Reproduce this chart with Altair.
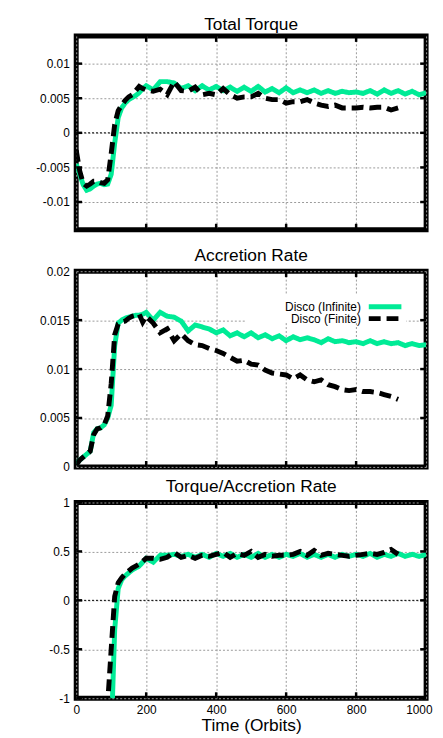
import altair as alt
import pandas as pd

# ---------------- data ----------------
TIME = [0, 10, 20, 30, 40, 50, 60, 70, 80, 90, 100, 110, 120, 130, 140, 150, 160, 170, 180, 190, 200,
        220, 240, 260, 280, 300, 320, 340, 360, 380, 400, 420, 440, 460, 480, 500, 520, 540, 560, 580, 600,
        620, 640, 660, 680, 700, 720, 740, 760, 780, 800, 820, 840, 860, 880, 900, 920, 940, 960, 980, 1000]

RUNS = ["Disco (Infinite)", "Disco (Finite)"]

INF_TORQUE = [-0.0045, -0.006, -0.0075, -0.0083, -0.0081, -0.0077, -0.0074, -0.0073, -0.0075, -0.0074,
              -0.006, -0.0015, 0.0022, 0.0036, 0.0043, 0.0048, 0.0051, 0.0054, 0.0058, 0.0064, 0.0068,
              0.0062, 0.0074, 0.0074, 0.0072, 0.0064, 0.0068, 0.0061, 0.0068, 0.0062, 0.0067,
              0.0061, 0.0066, 0.006, 0.0066, 0.006, 0.0067, 0.0059, 0.0064, 0.0058, 0.0065,
              0.0058, 0.0062, 0.0058, 0.0062, 0.0057, 0.0061, 0.0057, 0.006, 0.0058, 0.0059,
              0.0057, 0.0061, 0.0056, 0.0062, 0.0057, 0.0061, 0.0056, 0.006, 0.0055, 0.0058]
FIN_TORQUE = [-0.0025, -0.0055, -0.0073, -0.0077, -0.0074, -0.007, -0.007, -0.0072, -0.0073, -0.0068,
              -0.003, 0.0012, 0.0032, 0.004, 0.0047, 0.0052, 0.0055, 0.0061, 0.0067, 0.0064, 0.0062,
              0.006, 0.0063, 0.0055, 0.0074, 0.0061, 0.006, 0.0066, 0.0055, 0.0057, 0.0055,
              0.0064, 0.0055, 0.005, 0.0052, 0.0052, 0.0057, 0.005, 0.0048, 0.0048, 0.0043,
              0.0045, 0.0045, 0.0048, 0.0043, 0.004, 0.0038, 0.004, 0.0036, 0.0036, 0.0036,
              0.0037, 0.0036, 0.0037, 0.0037, 0.0033, 0.0036, None, None, None, None]

INF_ACC = [0.0003, 0.0007, 0.001, 0.0013, 0.0016, 0.0035, 0.0039, 0.004, 0.0043, 0.005,
           0.0063, 0.0124, 0.0147, 0.015, 0.0152, 0.0153, 0.0154, 0.0155, 0.0155, 0.0156, 0.0158,
           0.015, 0.0158, 0.0154, 0.0153, 0.0149, 0.0139, 0.0145, 0.0143, 0.0141, 0.0137,
           0.014, 0.0134, 0.0137, 0.0133, 0.0137, 0.0132, 0.0135, 0.0131, 0.0134, 0.0129,
           0.0133, 0.013, 0.0132, 0.013, 0.0127, 0.0131, 0.0128, 0.0129, 0.0127, 0.0128,
           0.0126, 0.0129, 0.0126, 0.0128, 0.0126, 0.0127, 0.0124, 0.0126, 0.0124, 0.0125]
FIN_ACC = [0.0002, 0.0007, 0.001, 0.0013, 0.0016, 0.0033, 0.0039, 0.004, 0.0043, 0.0052,
           0.0085, 0.0135, 0.0146, 0.0148, 0.0149, 0.0152, 0.0154, 0.0155, 0.0156, 0.0148, 0.0154,
           0.0147, 0.0137, 0.0141, 0.0129, 0.0136, 0.0129, 0.0125, 0.0124, 0.0121, 0.0119,
           0.0116, 0.0112, 0.0108, 0.0109, 0.0105, 0.0104, 0.0099, 0.0096, 0.0095, 0.0094,
           0.009, 0.0094, 0.0089, 0.0087, 0.0089, 0.0084, 0.0082, 0.0079, 0.0078, 0.0079,
           0.0077, 0.0077, 0.0076, 0.0074, 0.0072, 0.0069, None, None, None, None]

INF_RATIO = [None, None, None, None, None, None, None, None, None, -2.6,
             -1.4, -0.3, 0.12, 0.21, 0.25, 0.28, 0.31, 0.33, 0.35, 0.39, 0.43,
             0.39, 0.46, 0.46, 0.47, 0.45, 0.47, 0.44, 0.47, 0.44, 0.48,
             0.45, 0.48, 0.44, 0.47, 0.44, 0.48, 0.44, 0.47, 0.44, 0.47,
             0.45, 0.48, 0.44, 0.47, 0.44, 0.47, 0.44, 0.47, 0.45, 0.47,
             0.45, 0.48, 0.44, 0.47, 0.45, 0.48, 0.45, 0.47, 0.45, 0.47]
FIN_RATIO = [None, None, None, None, None, None, None, None, -2.2, -1.05,
             -0.5, 0.04, 0.18, 0.23, 0.27, 0.3, 0.33, 0.35, 0.37, 0.4, 0.43,
             0.43, 0.42, 0.44, 0.49, 0.44, 0.46, 0.43, 0.46, 0.45, 0.47,
             0.49, 0.44, 0.48, 0.46, 0.5, 0.44, 0.47, 0.45, 0.46, 0.46,
             0.47, 0.5, 0.46, 0.51, 0.46, 0.48, 0.47, 0.46, 0.45, 0.46,
             0.47, 0.48, 0.47, 0.49, 0.52, 0.47, None, None, None, None]

X_TICKS = [0, 200, 400, 600, 800, 1000]
Y_TICKS_TORQUE = [-0.01, -0.005, 0, 0.005, 0.01]
Y_TICKS_ACC = [0, 0.005, 0.01, 0.015, 0.02]
Y_TICKS_RATIO = [-1, -0.5, 0, 0.5, 1]

# ---------------- style ----------------
FONT = "Liberation Sans"
GREEN = "#00eb96"
COLORS = [GREEN, "black"]
DASHES = [[1, 0], [12, 6]]
W = 354
RES = dict(x="independent", y="independent", color="independent", strokeDash="independent")


def long_df(inf, fin):
    rows = []
    for run, vals in zip(RUNS, [inf, fin]):
        for t, v in zip(TIME, vals):
            if v is not None:
                rows.append({"t": t, "v": v, "run": run})
    return pd.DataFrame(rows)


def panel(inf, fin, title, ydomain, yticks, height, bottom=False, legend=False, zero=True):
    df = long_df(inf, fin)
    xaxis = alt.Axis(
        values=X_TICKS, grid=True, gridColor="#9a9a9a", gridDash=[2, 2], gridWidth=1,
        ticks=False, domain=False, labels=bottom, labelExpr="toString(datum.value)",
        labelAlign={"condition": {"test": "datum.value == 1000", "value": "right"}, "value": "center"},
        labelOffset={"condition": {"test": "datum.value == 1000", "value": 6}, "value": 0},
        labelFontSize=12, labelFont=FONT, labelColor="black", labelPadding=6,
        title="Time (Orbits)" if bottom else None, titleFontSize=17.5, titleFont=FONT,
        titleFontWeight="normal", titleColor="black", titlePadding=2,
    )
    yaxis = alt.Axis(
        values=yticks, grid=True, gridColor="#9a9a9a", gridDash=[2, 2], gridWidth=1,
        ticks=False, domain=False, labelExpr="toString(datum.value)",
        labelFontSize=12, labelFont=FONT, labelColor="black", labelPadding=7,
        title=None, minExtent=42, maxExtent=42,
    )
    xs = alt.Scale(domain=[0, 1000], nice=False, zero=False)
    ys = alt.Scale(domain=ydomain, nice=False, zero=False)
    X = alt.X("t:Q", scale=xs, axis=xaxis)
    Y = alt.Y("v:Q", scale=ys, axis=yaxis)
    C = alt.Color("run:N", scale=alt.Scale(domain=RUNS, range=COLORS), legend=None)
    D = alt.StrokeDash("run:N", scale=alt.Scale(domain=RUNS, range=DASHES), legend=None)

    layers = []
    if legend:
        # opaque key box (hides the grid behind the key, as in gnuplot)
        layers.append(alt.Chart(pd.DataFrame({"k": [0]})).mark_rect(color="white")
                      .encode(x=alt.value(171), x2=alt.value(334), y=alt.value(24), y2=alt.value(52)))
    if zero:
        layers.append(
            alt.Chart(pd.DataFrame({"v": [0]})).mark_rule(color="black", strokeDash=[2, 2], strokeWidth=1)
            .encode(y=Y)
        )
    for run in RUNS:
        layers.append(
            alt.Chart(df[df["run"] == run]).mark_line(clip=True, strokeWidth=5, strokeCap="butt")
            .encode(x=X, y=Y, color=C, strokeDash=D)
        )
    xt = pd.DataFrame({"t": X_TICKS[1:-1]})
    yt = pd.DataFrame({"v": yticks[1:-1] if not zero else yticks})
    layers.append(alt.Chart(xt).mark_rule(color="black", strokeWidth=2.5)
                  .encode(x=X, y=alt.value(height), y2=alt.value(height - 6)))
    layers.append(alt.Chart(xt).mark_rule(color="black", strokeWidth=2.5)
                  .encode(x=X, y=alt.value(0), y2=alt.value(6)))
    layers.append(alt.Chart(yt).mark_rule(color="black", strokeWidth=2.5)
                  .encode(y=Y, x=alt.value(0), x2=alt.value(6)))
    layers.append(alt.Chart(yt).mark_rule(color="black", strokeWidth=2.5)
                  .encode(y=Y, x=alt.value(W - 6), x2=alt.value(W)))

    if legend:
        # gnuplot-style key: label on the left, line sample on the right
        for i, run in enumerate(RUNS):
            ky = 36 + 12 * i
            kd = pd.DataFrame({"run": [run]})
            layers.append(alt.Chart(kd).mark_text(align="right", baseline="middle", fontSize=12,
                                                  font=FONT, color="black")
                          .encode(text="run:N", x=alt.value(288), y=alt.value(ky)))
            layers.append(alt.Chart(kd).mark_rule(strokeWidth=5, color=COLORS[i], strokeDash=DASHES[i],
                                                  strokeCap="butt")
                          .encode(x=alt.value(296), x2=alt.value(329), y=alt.value(ky)))

    return alt.layer(*layers).properties(
        width=W, height=height,
        title=alt.TitleParams(title, fontSize=17.5, font=FONT, fontWeight="normal", color="black",
                              anchor="middle", offset=1),
    )


p1 = panel(INF_TORQUE, FIN_TORQUE, "Total Torque", [-0.014, 0.014], Y_TICKS_TORQUE, 196)
p2 = panel(INF_ACC, FIN_ACC, "Accretion Rate", [0, 0.02], Y_TICKS_ACC, 198, legend=True, zero=False)
p3 = panel(INF_RATIO, FIN_RATIO, "Torque/Accretion Rate", [-1, 1], Y_TICKS_RATIO, 198, bottom=True)

upper = alt.vconcat(p1, p2, spacing=11).resolve_scale(**RES)

chart = (
    alt.vconcat(upper, p3, spacing=0)
    .resolve_scale(**RES)
    .properties(padding={"left": 24, "top": 1, "right": 0, "bottom": 0}, background="white")
    .configure_view(stroke="black", strokeWidth=5)
)

chart.save("out.html", embed_options={"renderer": "svg", "actions": False})
